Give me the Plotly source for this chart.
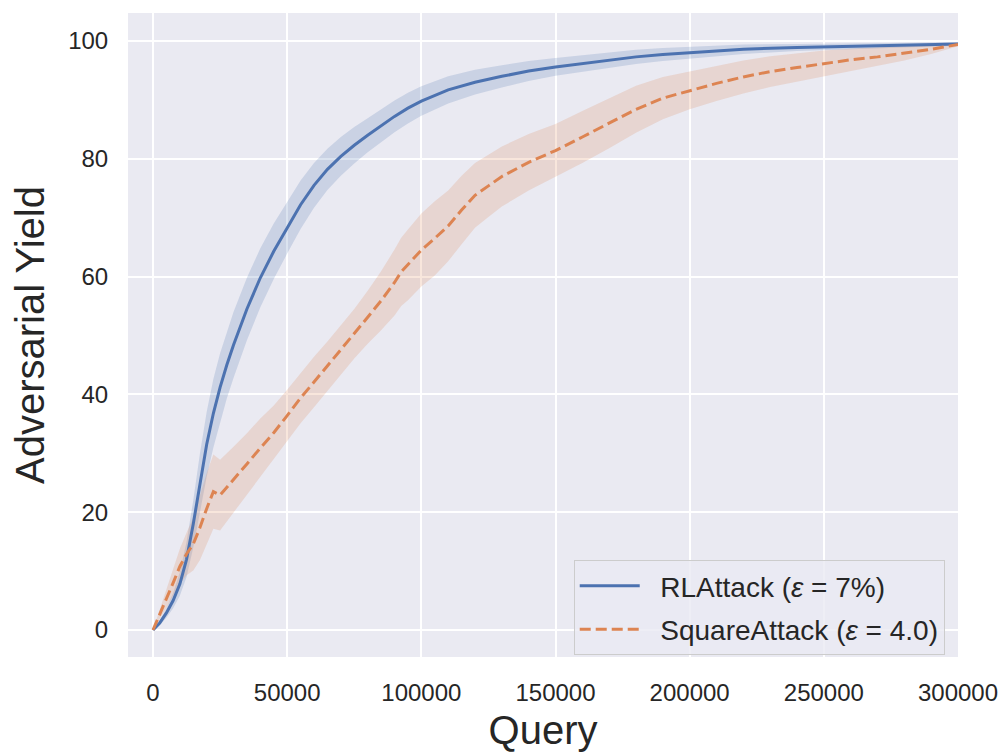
import plotly.graph_objects as go

# ---------------- data ----------------
rl_query = [0, 2500, 5000, 7500, 10000, 12500, 15000, 17500, 20000, 22500, 25000,
            27500, 30000, 35000, 40000, 45000, 50000, 55000, 60000, 65000, 70000,
            75000, 80000, 85000, 90000, 95000, 100000, 110000, 120000, 130000,
            140000, 150000, 160000, 170000, 180000, 190000, 200000, 220000,
            240000, 260000, 280000, 300000]
rl_yield = [0, 1.2, 2.9, 5.0, 7.8, 12.0, 18.0, 25.0, 31.5, 36.8, 41.2,
            45.0, 48.4, 54.5, 59.8, 64.3, 68.3, 72.2, 75.5, 78.2, 80.4,
            82.3, 84.0, 85.6, 87.2, 88.6, 89.8, 91.7, 93.0, 94.0,
            94.9, 95.6, 96.2, 96.8, 97.3, 97.7, 98.0, 98.6,
            98.9, 99.1, 99.3, 99.5]
rl_halfwidth = [0, 0.4, 0.8, 1.3, 2.0, 3.0, 4.0, 5.0, 5.5, 5.8, 5.8,
                5.7, 5.6, 5.3, 5.0, 4.7, 4.4, 4.1, 3.8, 3.5, 3.3,
                3.1, 2.9, 2.8, 2.7, 2.6, 2.5, 2.3, 2.1, 1.9,
                1.7, 1.5, 1.4, 1.3, 1.2, 1.1, 1.0, 0.8,
                0.6, 0.5, 0.4, 0.3]

sq_query = [0, 2500, 5000, 7500, 10000, 12500, 15000, 17500, 20000, 22500, 25000,
            30000, 35000, 40000, 45000, 50000, 55000, 60000, 65000, 70000, 75000,
            80000, 85000, 90000, 92500, 95000, 100000, 105000, 110000, 115000,
            120000, 125000, 130000, 140000, 150000, 160000, 170000, 180000, 190000,
            200000, 210000, 220000, 230000, 240000, 250000, 260000, 270000, 280000,
            290000, 300000]
sq_yield = [0, 2.6, 5.3, 8.0, 10.8, 12.9, 14.6, 17.4, 20.6, 23.5, 22.9,
            25.5, 28.2, 30.9, 33.5, 36.4, 39.4, 42.1, 44.8, 47.5, 50.3,
            53.1, 55.9, 59.0, 60.8, 62.0, 64.5, 66.5, 68.6, 71.3,
            73.8, 75.4, 77.0, 79.4, 81.4, 83.7, 86.0, 88.4, 90.3,
            91.6, 92.8, 93.9, 94.8, 95.5, 96.2, 96.8, 97.3, 97.9,
            98.6, 99.4]
sq_halfwidth = [0, 0.8, 1.5, 2.2, 3.0, 3.6, 4.5, 5.5, 6.0, 6.3, 6.0,
                5.6, 5.2, 5.0, 4.6, 4.4, 4.3, 4.3, 4.2, 4.2, 4.2,
                4.5, 5.0, 5.6, 5.8, 6.0, 6.2, 6.3, 6.0, 5.8,
                5.5, 5.3, 5.1, 4.8, 4.5, 4.4, 4.2, 4.0, 3.6,
                3.2, 3.0, 2.8, 2.6, 2.4, 2.2, 1.9, 1.6, 1.2,
                0.8, 0.3]

x_ticks = [0, 50000, 100000, 150000, 200000, 250000, 300000]
y_ticks = [0, 20, 40, 60, 80, 100]

series_names = ["RLAttack (<i>ε</i> = 7%)", "SquareAttack (<i>ε</i> = 4.0)"]

# ---------------- style ----------------
BLUE = "#4C72B0"
ORANGE = "#DD8452"
BG = "#EAEAF2"
TXT = "#262626"
FONT = "Liberation Sans, Arial, sans-serif"
PAD = "\u00a0\u00a0"

fig = go.Figure()


def add_band(xs, ys, hw, color_rgba):
    upper = [y + h for y, h in zip(ys, hw)]
    lower = [y - h for y, h in zip(ys, hw)]
    fig.add_trace(go.Scatter(x=xs, y=upper, mode="lines", line=dict(width=0),
                             showlegend=False, hoverinfo="skip"))
    fig.add_trace(go.Scatter(x=xs, y=lower, mode="lines", line=dict(width=0),
                             fill="tonexty", fillcolor=color_rgba,
                             showlegend=False, hoverinfo="skip"))


add_band(rl_query, rl_yield, rl_halfwidth, "rgba(76,114,176,0.2)")
add_band(sq_query, sq_yield, sq_halfwidth, "rgba(221,132,82,0.2)")

fig.add_trace(go.Scatter(x=rl_query, y=rl_yield, mode="lines", name=PAD + series_names[0],
                         line=dict(color=BLUE, width=3),
                         legendgroup="a"))
fig.add_trace(go.Scatter(x=sq_query, y=sq_yield, mode="lines", name=PAD + series_names[1],
                         line=dict(color=ORANGE, width=3, dash="11px,5px"),
                         legendgroup="b"))

# the page body adds an 8px offset, so the figure is sized/margined to compensate
fig.update_layout(
    width=998, height=745,
    margin=dict(l=120, r=48, t=5, b=96),
    paper_bgcolor="white",
    plot_bgcolor=BG,
    font=dict(family=FONT, color=TXT, size=24),
    showlegend=True,
    legend=dict(
        x=0.984, y=0.003, xanchor="right", yanchor="bottom",
        bgcolor="rgba(234,234,242,0.8)", bordercolor="#CCCCCC", borderwidth=1,
        font=dict(size=28, family=FONT, color=TXT),
        itemwidth=60, tracegroupgap=4,
    ),
)

fig.update_xaxes(
    range=[-9320, 300000], tickvals=x_ticks, ticktext=[str(v) for v in x_ticks],
    automargin=False,
    showgrid=True, gridcolor="white", gridwidth=2,
    zeroline=True, zerolinecolor="white", zerolinewidth=2,
    showline=False, ticks="outside", ticklen=14, tickcolor="rgba(0,0,0,0)",
    tickfont=dict(size=24, family=FONT, color=TXT),
    title=dict(text="Query", font=dict(size=40, family=FONT, color=TXT), standoff=11),
)
fig.update_yaxes(
    range=[-4.58, 104.75], tickvals=y_ticks, ticktext=[str(v) for v in y_ticks],
    automargin=False,
    showgrid=True, gridcolor="white", gridwidth=2,
    zeroline=True, zerolinecolor="white", zerolinewidth=2,
    showline=False, ticks="outside", ticklen=14, tickcolor="rgba(0,0,0,0)",
    tickfont=dict(size=24, family=FONT, color=TXT),
    title=dict(text="Adversarial Yield", font=dict(size=40, family=FONT, color=TXT), standoff=13),
)

fig.write_html("out.html")
